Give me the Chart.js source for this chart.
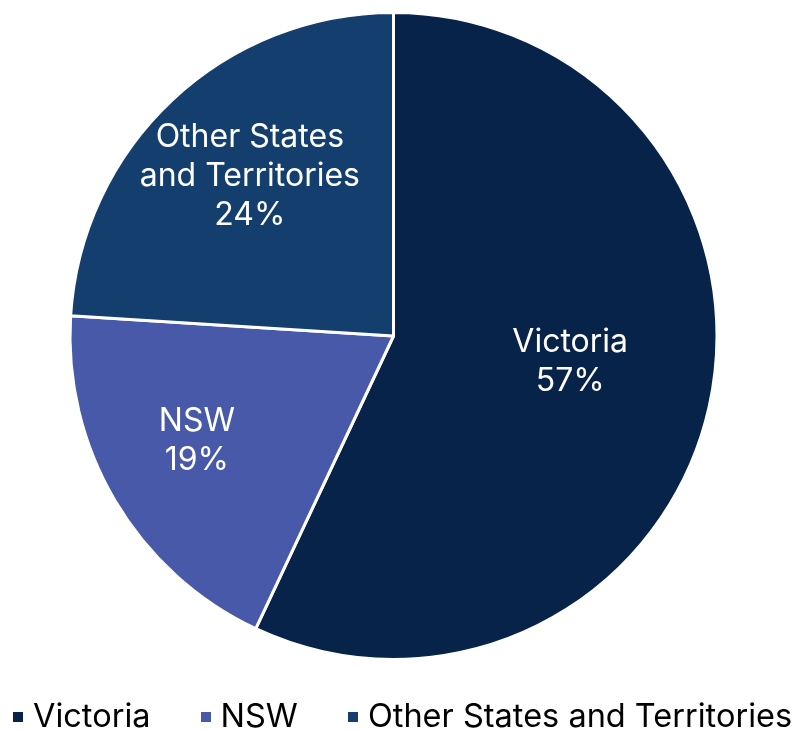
<!DOCTYPE html>
<html>
<head>
<meta charset="utf-8">
<script src="https://cdn.jsdelivr.net/npm/chart.js@4"></script>
<style>
  html, body { margin: 0; padding: 0; background: #fff; }
  #wrap { position: relative; width: 792px; height: 731px; }
  #legend {
    position: absolute; left: 13px; top: 696px; height: 40px;
    display: flex; align-items: center;
    font-family: Inter, sans-serif; font-size: 32.5px; line-height: 40px; color: #000;
    white-space: nowrap;
  }
  .item { display: flex; align-items: center; margin-right: 50px; }
  .item:last-child { margin-right: 0; }
  .box { width: 10px; height: 10px; margin-right: 10px; margin-top: 2px; }
</style>
</head>
<body>
<div id="wrap">
  <canvas id="myChart"></canvas>
  <div id="legend"></div>
</div>
<script>
const labels = ["Victoria", "NSW", "Other States and Territories"];
const shares = [57, 19, 24];
const labelLines = [["Victoria"], ["NSW"], ["Other States", "and Territories"]];
const colors = ["#08234a", "#4759a8", "#133e6e"];
// where each slice label sits: fraction of radius, and turn (deg) away from the slice middle
const labelRadius = [0.552, 0.689, 0.665];
const labelTurn = [-4.3, 2.5, 1.3];

const sliceLabels = {
  id: 'sliceLabels',
  afterDatasetsDraw(chart) {
    const ctx = chart.ctx;
    const meta = chart.getDatasetMeta(0);
    ctx.save();
    ctx.fillStyle = '#ffffff';
    ctx.font = '32px Inter';
    ctx.textAlign = 'center';
    ctx.textBaseline = 'middle';
    meta.data.forEach((arc, i) => {
      const mid = (arc.startAngle + arc.endAngle) / 2 + labelTurn[i] * Math.PI / 180;
      const r = arc.outerRadius * labelRadius[i];
      const x = arc.x + Math.cos(mid) * r;
      const y = arc.y + Math.sin(mid) * r;
      const lines = labelLines[i].concat([shares[i] + '%']);
      const lh = 39;
      const top = y - (lines.length - 1) * lh / 2;
      lines.forEach((t, j) => ctx.fillText(t, x, top + j * lh));
    });
    ctx.restore();
  }
};

var ctx = document.getElementById('myChart').getContext('2d');
var myChart = new Chart(ctx, {
  type: 'pie',
  data: {
    labels: labels,
    datasets: [{
      data: shares,
      backgroundColor: colors,
      borderColor: '#ffffff',
      borderWidth: 3,
    }]
  },
  options: {
    responsive: true,
    maintainAspectRatio: false,
    animation: false,
    layout: { padding: { top: 11, right: 5, bottom: 70 } },
    plugins: {
      tooltip: { enabled: false },
      legend: { display: false }
    }
  },
  plugins: [sliceLabels]
});

// legend
var legend = document.getElementById('legend');
labels.forEach((name, i) => {
  var item = document.createElement('div');
  item.className = 'item';
  var box = document.createElement('span');
  box.className = 'box';
  box.style.background = colors[i];
  var txt = document.createElement('span');
  txt.textContent = name;
  item.appendChild(box);
  item.appendChild(txt);
  legend.appendChild(item);
});
</script>
</body>
</html>
